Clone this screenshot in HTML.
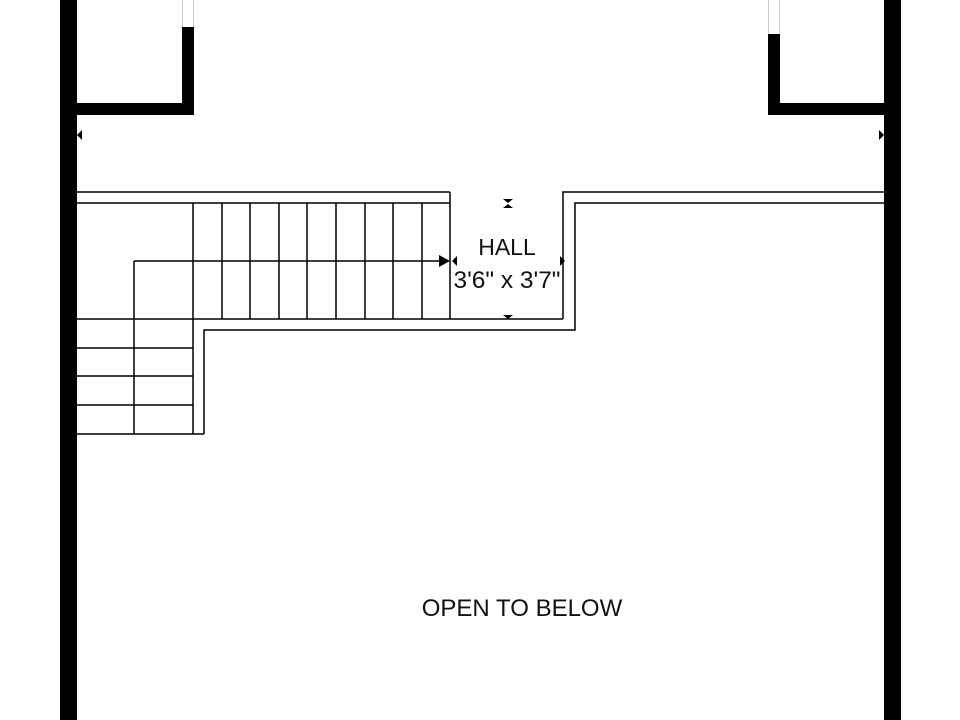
<!DOCTYPE html>
<html><head><style>
html,body{margin:0;padding:0;background:#fff;width:960px;height:720px;overflow:hidden}
svg{display:block}
text{font-family:"Liberation Sans",sans-serif;fill:#111}
</style></head><body>
<svg width="960" height="720" viewBox="0 0 960 720">
<rect x="60" y="0" width="17" height="720" fill="#000"/>
<rect x="884" y="0" width="17" height="720" fill="#000"/>
<rect x="182" y="27" width="12" height="88" fill="#000"/>
<rect x="77" y="103" width="117" height="12" fill="#000"/>
<rect x="768" y="34" width="12" height="81" fill="#000"/>
<rect x="768" y="103" width="116" height="12" fill="#000"/>
<g stroke="#ccc" stroke-width="1">
<line x1="182.5" y1="0" x2="182.5" y2="27"/><line x1="193.5" y1="0" x2="193.5" y2="27"/>
<line x1="768.5" y1="0" x2="768.5" y2="34"/><line x1="779.5" y1="0" x2="779.5" y2="34"/>
</g>
<g stroke="#000" stroke-width="1.5" fill="none">
<line x1="77" y1="192" x2="450" y2="192"/>
<line x1="77" y1="203" x2="450" y2="203"/>
<line x1="450" y1="192" x2="450" y2="319"/>
<line x1="193" y1="203" x2="193" y2="434"/>
<line x1="222" y1="203" x2="222" y2="319"/>
<line x1="250" y1="203" x2="250" y2="319"/>
<line x1="279" y1="203" x2="279" y2="319"/>
<line x1="307" y1="203" x2="307" y2="319"/>
<line x1="336" y1="203" x2="336" y2="319"/>
<line x1="365" y1="203" x2="365" y2="319"/>
<line x1="393" y1="203" x2="393" y2="319"/>
<line x1="422" y1="203" x2="422" y2="319"/>
<line x1="134" y1="261" x2="440" y2="261"/>
<line x1="134" y1="261" x2="134" y2="434"/>
<line x1="77" y1="319" x2="563" y2="319"/>
<line x1="77" y1="348" x2="193" y2="348"/>
<line x1="77" y1="376" x2="193" y2="376"/>
<line x1="77" y1="405" x2="193" y2="405"/>
<line x1="77" y1="434" x2="204" y2="434"/>
<polyline points="204,434 204,330 575,330 575,203 884,203"/>
<polyline points="563,319 563,192 884,192"/>
</g>
<polygon points="439,255 450,261 439,267" fill="#000"/>
<polygon points="457,256 452,261 457,266" fill="#000"/>
<polygon points="560,256 565,261 560,266" fill="#000"/>
<polygon points="503,199 513,199 508,203" fill="#000"/>
<polygon points="503,208 513,208 508,204" fill="#000"/>
<polygon points="503,315 513,315 508,319" fill="#000"/>
<polygon points="82,130 77,135 82,140" fill="#000"/>
<polygon points="879,130 884,135 879,140" fill="#000"/>
<text x="507" y="255" font-size="23" text-anchor="middle">HALL</text>
<text x="507" y="288" font-size="24" text-anchor="middle" textLength="107" lengthAdjust="spacingAndGlyphs">3'6" x 3'7"</text>
<text x="522" y="616" font-size="24" text-anchor="middle">OPEN TO BELOW</text>
</svg>
</body></html>
